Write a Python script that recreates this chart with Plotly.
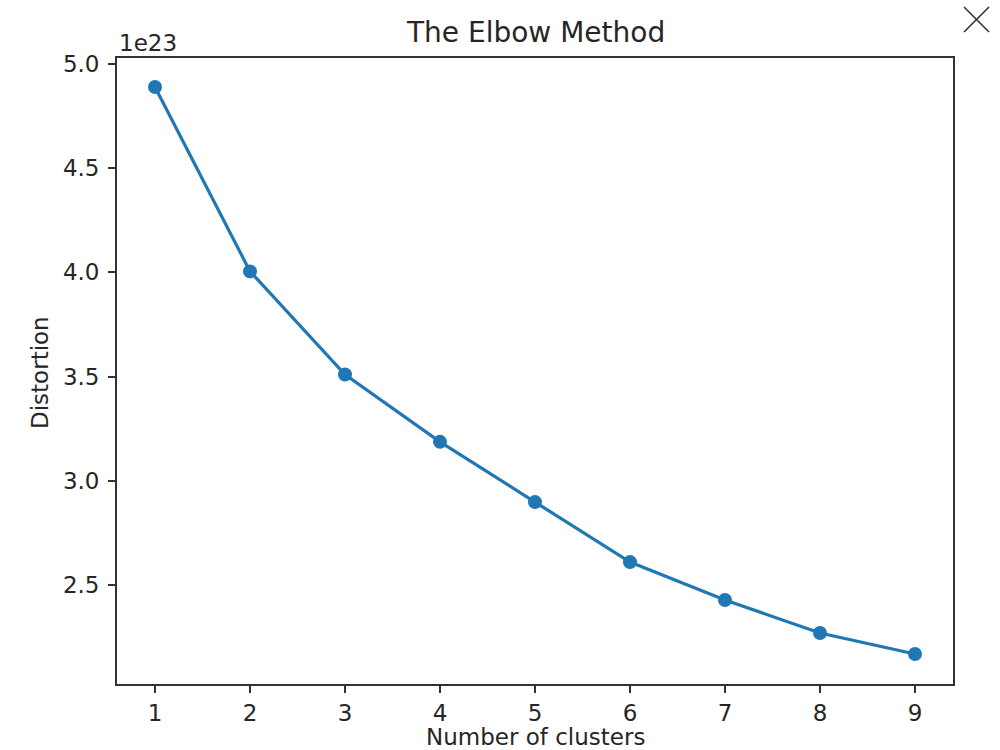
import plotly.graph_objects as go

clusters = [1, 2, 3, 4, 5, 6, 7, 8, 9]
distortion = [4.89e23, 4.005e23, 3.51e23, 3.187e23, 2.898e23, 2.61e23, 2.428e23, 2.27e23, 2.169e23]
y_tick_vals = [2.5e23, 3.0e23, 3.5e23, 4.0e23, 4.5e23, 5.0e23]
y_tick_text = ["2.5", "3.0", "3.5", "4.0", "4.5", "5.0"]
x_tick_vals = clusters
x_tick_text = [str(c) for c in clusters]

FONT = "DejaVu Sans"
TXT = "#262626"
L, R, T, B = 117, 47, 58, 66
W, H = 1000, 750
PW, PH = W - L - R, H - T - B

def px(x):
    return (x - L) / PW

def py(y):
    return (H - B - y) / PH

fig = go.Figure()
fig.add_trace(go.Scatter(
    x=clusters, y=distortion, mode="lines+markers",
    line=dict(color="#1f77b4", width=3.2),
    marker=dict(color="#1f77b4", size=14),
    showlegend=False,
))

axis_common = dict(
    showline=True, linecolor="#333333", linewidth=1.8, mirror=True,
    ticks="outside", ticklen=7, tickwidth=1.6, tickcolor="#333333",
    showgrid=False, zeroline=False,
    tickfont=dict(family=FONT, size=23, color=TXT),
)

fig.update_xaxes(range=[0.6, 9.4], tickvals=x_tick_vals, ticktext=x_tick_text, **axis_common)
fig.update_yaxes(range=[2.025e23, 5.029e23], tickvals=y_tick_vals, ticktext=y_tick_text,
                 ticklabelstandoff=4, **axis_common)

fig.update_layout(
    width=W, height=H,
    margin=dict(l=L, r=R, t=T, b=B),
    paper_bgcolor="white", plot_bgcolor="white",
    font=dict(family=FONT, color=TXT),
    annotations=[
        dict(text="The Elbow Method", x=px(535), y=py(33), xref="paper", yref="paper",
             xanchor="center", yanchor="middle", showarrow=False,
             font=dict(family=FONT, size=28, color=TXT)),
        dict(text="Number of clusters", x=px(535), y=py(737), xref="paper", yref="paper",
             xanchor="center", yanchor="middle", showarrow=False,
             font=dict(family=FONT, size=23, color=TXT)),
        dict(text="Distortion", x=px(40), y=py(373), xref="paper", yref="paper",
             xanchor="center", yanchor="middle", showarrow=False, textangle=-90,
             font=dict(family=FONT, size=23, color=TXT)),
        dict(text="1e23", x=0, y=py(43), xref="paper", yref="paper",
             xanchor="left", yanchor="middle", showarrow=False,
             font=dict(family=FONT, size=23, color=TXT)),
    ],
    shapes=[
        dict(type="line", xref="paper", yref="paper", x0=px(964), y0=py(7), x1=px(989), y1=py(32),
             line=dict(color="#333333", width=1.6)),
        dict(type="line", xref="paper", yref="paper", x0=px(964), y0=py(32), x1=px(989), y1=py(7),
             line=dict(color="#333333", width=1.6)),
    ],
)

fig.write_html("out.html")
